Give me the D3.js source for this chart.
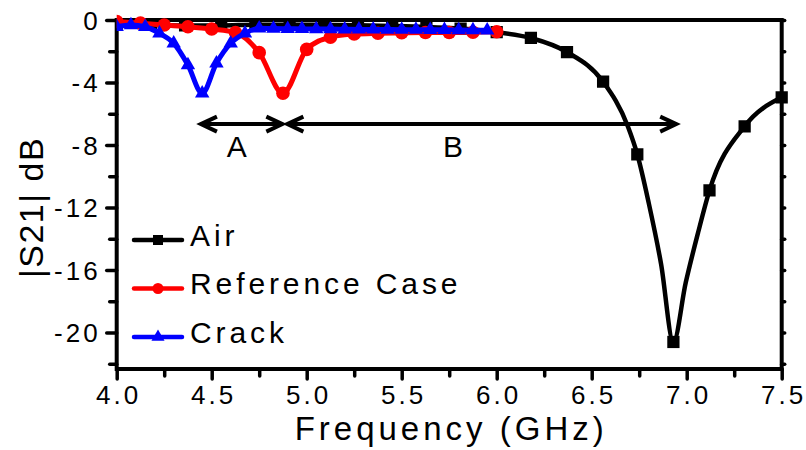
<!DOCTYPE html>
<html><head><meta charset="utf-8">
<script src="https://cdn.jsdelivr.net/npm/d3@7"></script>
<style>
body{margin:0;background:#fff}
svg{display:block}
text{font-family:"Liberation Sans",Arial,sans-serif;fill:#000}
</style>
</head><body><svg id="c" width="806" height="450"></svg>
<script>
// ---- data ----
const airFreq = [4.0,4.18,4.36,4.55,4.73,4.91,5.09,5.27,5.45,5.63,5.81,6.0,6.18,6.37,6.56,6.74,6.93,7.12,7.305,7.5];
const airDb   = [-0.30,-0.32,-0.35,-0.35,-0.30,-0.30,-0.32,-0.34,-0.38,-0.44,-0.55,-0.78,-1.15,-2.05,-3.95,-8.6,-20.6,-10.9,-6.8,-4.95];
const airLineFreq = [6.69,6.80,6.865,6.995,7.06];
const airLineDb   = [-6.8,-11.7,-15.6,-16.8,-13.6];

const refFreq = [4.0,4.125,4.25,4.375,4.5,4.625,4.75,4.875,5.0,5.125,5.25,5.375,5.5,5.625,5.75,5.875,6.0];
const refDb   = [-0.1,-0.2,-0.32,-0.43,-0.58,-0.8,-2.09,-4.69,-1.88,-1.1,-0.9,-0.85,-0.82,-0.8,-0.8,-0.78,-0.75];

const crackFreq = [4.0,4.075,4.15,4.225,4.3,4.375,4.45,4.525,4.6,4.675,4.75,4.825,4.9,4.975,5.05,5.125,5.2,5.275,5.35,5.425,5.5,5.575,5.65,5.725,5.8,5.875,5.95];
const crackDb   = [-0.43,-0.32,-0.43,-0.85,-1.49,-2.88,-4.69,-2.77,-1.49,-0.85,-0.53,-0.55,-0.56,-0.57,-0.58,-0.58,-0.59,-0.6,-0.6,-0.61,-0.62,-0.62,-0.63,-0.63,-0.64,-0.65,-0.66];

const seriesNames = ["Air","Reference Case","Crack"];
const seriesColors = ["#000000","#ff0000","#0000ff"];

const xMajor = [4.0,4.5,5.0,5.5,6.0,6.5,7.0,7.5];
const xMinor = [4.25,4.75,5.25,5.75,6.25,6.75,7.25];
const yMajor = [0,-4,-8,-12,-16,-20];
const yMinor = [-2,-6,-10,-14,-18,-22];

// annotation arrows (frequency span, level in dB) and labels
const arrowStart = [4.438, 4.893];
const arrowEnd   = [4.877, 6.95];
const arrowLevel = -6.66;
const arrowLabels = ["A","B"];
const arrowLabelFreq = [4.632, 5.77];
const arrowLabelLevel = -8.75;

// ---- layout ----
const svg = d3.select("#c");
const L = 116.7, R = 781.7, T = 20, B = 369;
const x = d3.scaleLinear().domain([4,7.5]).range([L,R]);
const y = d3.scaleLinear().domain([-22.33,0]).range([B,T]);

const axStyle = g => {
  g.select(".domain").remove();
  g.selectAll(".tick line").attr("stroke","#000").attr("stroke-width",3.5).attr("stroke-linecap","round");
};
svg.append("g").attr("transform",`translate(0,${B})`)
  .call(d3.axisBottom(x).tickValues(xMinor).tickSize(7).tickFormat(""))
  .call(axStyle);
svg.append("g").attr("transform",`translate(0,${B})`)
  .call(d3.axisBottom(x).tickValues(xMajor).tickSize(10).tickPadding(7).tickFormat(d3.format(".1f")))
  .call(axStyle)
  .call(g=>g.selectAll("text").attr("font-size",26).attr("letter-spacing",3).attr("dx",1.5));
svg.append("g").attr("transform",`translate(${L},0)`)
  .call(d3.axisLeft(y).tickValues(yMinor).tickSize(7).tickFormat(""))
  .call(axStyle);
svg.append("g").attr("transform",`translate(${L},0)`)
  .call(d3.axisLeft(y).tickValues(yMajor).tickSize(10).tickPadding(6).tickFormat(d=>String(d)))
  .call(axStyle)
  .call(g=>g.selectAll("text").attr("font-size",26).attr("letter-spacing",3).attr("dy","0.36em"));
svg.append("g").attr("transform",`translate(${R},0)`)
  .call(d3.axisRight(y).tickValues(yMajor.concat(yMinor)).tickSize(3).tickFormat(""))
  .call(axStyle);

// frame
svg.append("rect").attr("x",L).attr("y",T).attr("width",R-L).attr("height",B-T)
  .attr("fill","none").attr("stroke","#000").attr("stroke-width",4);

svg.append("clipPath").attr("id","clip").append("rect")
  .attr("x",L).attr("y",T-12).attr("width",R-L+10).attr("height",B-T+12);
const plot = svg.append("g").attr("clip-path","url(#clip)");

const lineSmooth = d3.line().x(d=>x(d[0])).y(d=>y(d[1])).curve(d3.curveMonotoneX);

// Air
const airLinePts = airFreq.map((f,i)=>[f,airDb[i]])
  .concat(airLineFreq.map((f,i)=>[f,airLineDb[i]]))
  .sort((a,b)=>a[0]-b[0]);
plot.append("path").attr("d",lineSmooth(airLinePts)).attr("fill","none")
  .attr("stroke",seriesColors[0]).attr("stroke-width",4.5);
plot.selectAll(".sq").data(airFreq.map((f,i)=>[f,airDb[i]])).join("path")
  .attr("transform",d=>`translate(${x(d[0])},${y(d[1])})`)
  .attr("d",d3.symbol(d3.symbolSquare,150)()).attr("fill",seriesColors[0]);

// Reference case
const refPts = refFreq.map((f,i)=>[f,refDb[i]]);
plot.append("path").attr("d",lineSmooth(refPts)).attr("fill","none")
  .attr("stroke",seriesColors[1]).attr("stroke-width",5);
plot.selectAll(".ci").data(refPts).join("circle")
  .attr("cx",d=>x(d[0])).attr("cy",d=>y(d[1])).attr("r",6.8).attr("fill",seriesColors[1]);

// Crack
const crackPts = crackFreq.map((f,i)=>[f,crackDb[i]]);
plot.append("path").attr("d",lineSmooth(crackPts)).attr("fill","none")
  .attr("stroke",seriesColors[2]).attr("stroke-width",5);
plot.selectAll(".tr").data(crackPts).join("path")
  .attr("transform",d=>`translate(${x(d[0])},${y(d[1])})`)
  .attr("d",d3.symbol(d3.symbolTriangle,90)()).attr("fill",seriesColors[2]);

// arrows
const ay = y(arrowLevel);
arrowStart.forEach((s,i)=>{
  const x0 = x(s), x1 = x(arrowEnd[i]);
  const g = svg.append("g").attr("stroke","#000").attr("fill","none").attr("stroke-width",4);
  g.append("line").attr("x1",x0+2).attr("x2",x1-2).attr("y1",ay).attr("y2",ay);
  g.append("path").attr("d",`M${x0+17},${ay-7.5}L${x0+1},${ay}L${x0+17},${ay+7.5}`);
  g.append("path").attr("d",`M${x1-17},${ay-7.5}L${x1-1},${ay}L${x1-17},${ay+7.5}`);
  svg.append("text").attr("x",x(arrowLabelFreq[i])).attr("y",y(arrowLabelLevel))
    .attr("text-anchor","middle").attr("font-size",30).text(arrowLabels[i]);
});

// legend
const legY = [240,288.5,337];
const legMarkers = [
  g=>g.append("path").attr("d",d3.symbol(d3.symbolSquare,100)()).attr("fill",seriesColors[0]),
  g=>g.append("circle").attr("r",5.5).attr("fill",seriesColors[1]),
  g=>g.append("path").attr("d",d3.symbol(d3.symbolTriangle,75)()).attr("fill",seriesColors[2])
];
seriesNames.forEach((n,i)=>{
  const g = svg.append("g").attr("transform",`translate(0,${legY[i]})`);
  g.append("line").attr("x1",134).attr("x2",182).attr("y1",0).attr("y2",0)
    .attr("stroke",seriesColors[i]).attr("stroke-width",4.5).attr("stroke-linecap","round");
  legMarkers[i](g.append("g").attr("transform","translate(158,0)"));
  g.append("text").attr("x",190).attr("y",5.5).attr("font-size",30)
    .attr("letter-spacing",3.9).text(n);
});

// axis titles
svg.append("text").attr("x",(L+R)/2 + 2).attr("y",440).attr("text-anchor","middle")
  .attr("font-size",33).attr("letter-spacing",4).text("Frequency (GHz)");
svg.append("text").attr("transform","translate(43,207.5) rotate(-90)")
  .attr("text-anchor","middle").attr("font-size",34).attr("letter-spacing",1.5).text("|S21| dB");
</script>
</body></html>
